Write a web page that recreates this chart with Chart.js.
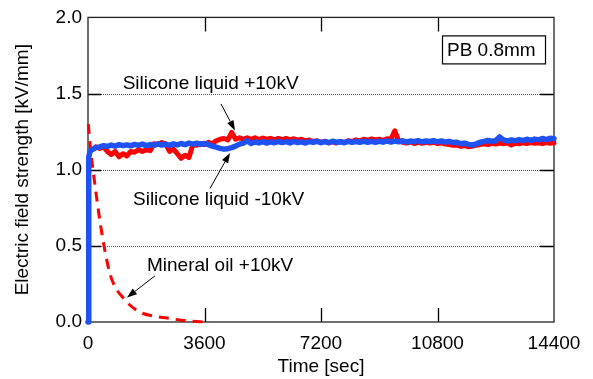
<!DOCTYPE html>
<html><head><meta charset="utf-8">
<script src="https://cdn.jsdelivr.net/npm/chart.js@4/dist/chart.umd.min.js"></script>
<style>html,body{margin:0;padding:0;background:#fff}canvas{display:block}</style>
</head><body>
<canvas id="c" width="593" height="379"></canvas>
<script>
// ---- data (time in seconds, field strength in kV/mm) ----
const timeSec = [0,15,30,60,
 120,240,360,480,600,720,840,960,1080,1200,
 1320,1440,1560,1680,1800,1920,2040,2160,2280,2400,
 2520,2640,2760,2880,3000,3120,3240,3360,3480,3600,
 3720,3840,3960,4080,4200,4320,4440,4560,4680,4800,
 4920,5040,5160,5280,5400,5520,5640,5760,5880,6000,
 6120,6240,6360,6480,6600,6720,6840,6960,7080,7200,
 7320,7440,7560,7680,7800,7920,8040,8160,8280,8400,
 8520,8640,8760,8880,9000,9120,9240,9360,9480,9600,
 9720,9840,9960,10080,10200,10320,10440,10560,10680,10800,
 10920,11040,11160,11280,11400,11520,11640,11760,11880,12000,
 12120,12240,12360,12480,12600,12720,12840,12960,13080,13200,
 13320,13440,13560,13680,13800,13920,14040,14160,14280,14400];

const siliconeNeg10kV = [0,0.55,1.08,1.12,
 1.13,1.145,1.15,1.158,1.152,1.162,1.155,1.165,1.158,1.163,
 1.157,1.166,1.16,1.168,1.158,1.165,1.16,1.17,1.162,1.168,
 1.16,1.17,1.163,1.172,1.165,1.175,1.168,1.174,1.166,1.172,
 1.165,1.155,1.148,1.14,1.135,1.138,1.145,1.155,1.168,1.175,
 1.19,1.172,1.182,1.176,1.184,1.175,1.183,1.177,1.185,1.178,
 1.184,1.176,1.186,1.178,1.183,1.175,1.185,1.179,1.186,1.177,
 1.185,1.178,1.187,1.18,1.184,1.177,1.186,1.179,1.185,1.18,
 1.188,1.18,1.186,1.179,1.187,1.181,1.189,1.182,1.188,1.183,
 1.19,1.182,1.188,1.184,1.191,1.183,1.189,1.185,1.19,1.183,
 1.189,1.181,1.186,1.178,1.18,1.172,1.174,1.166,1.163,1.17,
 1.18,1.186,1.192,1.187,1.19,1.215,1.196,1.188,1.195,1.19,
 1.198,1.191,1.2,1.193,1.201,1.196,1.205,1.198,1.206,1.203];

const siliconePos10kV = [null,null,null,null,
 null,1.15,1.14,1.15,1.12,1.10,1.12,1.085,1.105,1.09,
 1.12,1.115,1.13,1.12,1.13,1.125,1.17,1.165,1.178,1.17,
 1.12,1.135,1.105,1.075,1.095,1.08,1.165,1.16,1.172,1.165,
 1.18,1.17,1.19,1.2,1.205,1.195,1.245,1.2,1.21,1.2,
 1.21,1.2,1.21,1.198,1.208,1.2,1.206,1.196,1.205,1.198,
 1.205,1.196,1.203,1.194,1.2,1.19,1.195,1.185,1.19,1.18,
 1.186,1.176,1.183,1.175,1.185,1.178,1.19,1.185,1.196,1.19,
 1.2,1.192,1.202,1.195,1.2,1.193,1.203,1.2,1.255,1.19,
 1.18,1.175,1.182,1.172,1.18,1.174,1.18,1.175,1.18,1.172,
 1.176,1.168,1.165,1.16,1.162,1.154,1.158,1.15,1.155,1.16,
 1.165,1.17,1.165,1.173,1.168,1.175,1.17,1.176,1.162,1.174,
 1.17,1.177,1.172,1.178,1.174,1.177,1.171,1.178,1.174,1.177];

const mineralTime = [10,80,155,216,371,525,680,850,1080,1300,1600,2000,2440,2900,3460,3600];
const mineralPos10kV = [1.30,1.13,1.0,0.897,0.66,0.465,0.316,0.225,0.16,0.11,0.065,0.04,0.026,0.012,0.002,0.0];

const xTickValues = [0,3600,7200,10800,14400];
const yTickValues = [0,0.5,1.0,1.5,2.0];

const annotations = [
  {text:'Silicone liquid +10kV', t:1072, v:1.529, from:[4110,1.432], to:[4543,1.258]},
  {text:'Silicone liquid -10kV', t:1390, v:0.768, from:[3770,0.877], to:[4388,1.11]},
  {text:'Mineral oil +10kV',     t:1823, v:0.335, from:[2070,0.303], to:[1205,0.161]}
];
const boxLabel = 'PB 0.8mm';

// ---- build ----
const FONT = '"Liberation Sans", Arial, sans-serif';
const pts = (xs, ys) => xs.map((x,i)=>({x, y: ys[i]}));

const framePlugin = {
  id:'frame',
  beforeDatasetsDraw(chart){
    const {ctx, chartArea:a, scales:{x,y}} = chart;
    ctx.save();
    ctx.strokeStyle = '#555'; ctx.lineWidth = 1; ctx.setLineDash([1,1]);
    yTickValues.slice(1,-1).forEach(v=>{
      const py = Math.round(y.getPixelForValue(v))+0.5;
      ctx.beginPath(); ctx.moveTo(a.left+13, py); ctx.lineTo(a.right-14, py); ctx.stroke();
    });
    ctx.setLineDash([]);
    ctx.strokeStyle = '#000'; ctx.lineWidth = 1.3;
    yTickValues.slice(1,-1).forEach(v=>{
      const py = Math.round(y.getPixelForValue(v))+0.5;
      ctx.beginPath(); ctx.moveTo(a.left, py); ctx.lineTo(a.left+13, py);
      ctx.moveTo(a.right-14, py); ctx.lineTo(a.right, py); ctx.stroke();
    });
    xTickValues.slice(1,-1).forEach(v=>{
      const px = Math.round(x.getPixelForValue(v))+0.5;
      ctx.beginPath(); ctx.moveTo(px, a.bottom); ctx.lineTo(px, a.bottom-14);
      ctx.moveTo(px, a.top); ctx.lineTo(px, a.top+14); ctx.stroke();
    });
    ctx.strokeStyle = '#222';
    ctx.strokeRect(a.left, a.top, a.right-a.left, a.bottom-a.top);
    ctx.restore();
  },
  afterDatasetsDraw(chart){
    const {ctx, chartArea:a, scales:{x,y}} = chart;
    ctx.save();
    ctx.font = '19px ' + FONT;
    ctx.fillStyle = '#000'; ctx.textBaseline = 'alphabetic'; ctx.textAlign = 'left';
    annotations.forEach(an=>{
      ctx.fillText(an.text, x.getPixelForValue(an.t), y.getPixelForValue(an.v));
      const x1 = x.getPixelForValue(an.from[0]), y1 = y.getPixelForValue(an.from[1]);
      const x2 = x.getPixelForValue(an.to[0]), y2 = y.getPixelForValue(an.to[1]);
      const ang = Math.atan2(y2-y1, x2-x1), L = 10, W = 3.5;
      const bx = x2 - L*Math.cos(ang), by = y2 - L*Math.sin(ang);
      ctx.strokeStyle = '#000'; ctx.lineWidth = 1;
      ctx.beginPath(); ctx.moveTo(x1,y1); ctx.lineTo(bx,by); ctx.stroke();
      ctx.beginPath(); ctx.moveTo(x2,y2);
      ctx.lineTo(bx + W*Math.sin(ang), by - W*Math.cos(ang));
      ctx.lineTo(bx - W*Math.sin(ang), by + W*Math.cos(ang));
      ctx.closePath(); ctx.fill();
    });
    // label box
    const bxL = a.right-112, byT = a.top+18;
    ctx.lineWidth = 1.2; ctx.strokeStyle = '#000';
    ctx.strokeRect(bxL+0.5, byT+0.5, 103, 28);
    ctx.fillText(boxLabel, bxL+5, byT+21);
    ctx.restore();
  }
};

new Chart(document.getElementById('c'), {
  type:'line',
  data:{datasets:[
    {label:'Silicone liquid -10kV', data:pts(timeSec, siliconeNeg10kV), borderColor:'#1f52f5', borderWidth:5.5, borderJoinStyle:'round', borderCapStyle:'round', pointRadius:0, clip:false, spanGaps:false},
    {label:'Silicone liquid +10kV', data:pts(timeSec, siliconePos10kV), borderColor:'#ff0000', borderWidth:5, borderJoinStyle:'round', borderCapStyle:'round', pointRadius:0, clip:false, spanGaps:false},
    {label:'Mineral oil +10kV', data:pts(mineralTime, mineralPos10kV), borderColor:'#ff0000', borderWidth:3, borderDash:[10,7], pointRadius:0, clip:false, cubicInterpolationMode:'monotone'}
  ]},
  options:{
    responsive:false, animation:false, devicePixelRatio:1,
    layout:{padding:{top:12, right:39, left:0, bottom:0}},
    plugins:{legend:{display:false}, tooltip:{enabled:false}},
    scales:{
      x:{type:'linear', min:0, max:14400,
        afterBuildTicks:s=>{s.ticks = xTickValues.map(v=>({value:v}));},
        afterFit:s=>{s.height = 57;},
        grid:{display:false, drawTicks:false}, border:{display:false},
        ticks:{color:'#000', font:{family:FONT, size:19}, padding:10, maxRotation:0, autoSkip:false, callback:v=>String(v)},
        title:{display:true, text:'Time [sec]', color:'#000', font:{family:FONT, size:19}, padding:{top:0,bottom:1}}
      },
      y:{type:'linear', min:0, max:2,
        afterBuildTicks:s=>{s.ticks = yTickValues.map(v=>({value:v}));},
        afterFit:s=>{s.width = 88;},
        grid:{display:false, drawTicks:false}, border:{display:false},
        ticks:{color:'#000', font:{family:FONT, size:19}, padding:6, callback:v=>Number(v).toFixed(1)},
        title:{display:true, text:'Electric field strength [kV/mm]', color:'#000', font:{family:FONT, size:19}, padding:{top:11,bottom:0}}
      }
    }
  },
  plugins:[framePlugin]
});
</script>
</body></html>
